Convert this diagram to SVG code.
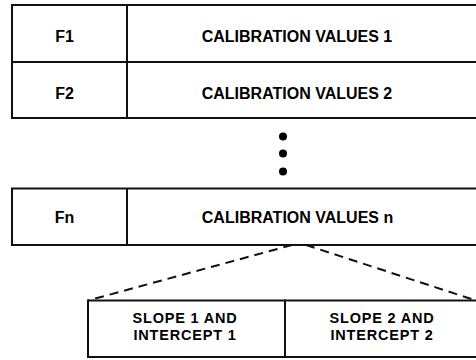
<svg xmlns="http://www.w3.org/2000/svg" width="476" height="360" viewBox="0 0 476 360">
<style>
.box{fill:#fff;stroke:#111;stroke-width:2}
.ln{stroke:#111;stroke-width:2;fill:none}
.dash{stroke:#111;stroke-width:2;fill:none;stroke-dasharray:9 6}
.t{font-family:"Liberation Sans",Arial,sans-serif;font-weight:bold;font-size:16px;fill:#000;text-anchor:middle}
.s{font-family:"Liberation Sans",Arial,sans-serif;font-weight:bold;font-size:14.5px;letter-spacing:0.8px;fill:#000;text-anchor:middle}
</style>
<rect width="476" height="360" fill="#fff"/>
<g id="row1">
<rect class="box" x="12" y="5" width="466" height="57"/>
<line class="ln" x1="127" y1="5" x2="127" y2="62"/>
<text class="t" x="64.5" y="41.5">F1</text>
<text class="t" x="297" y="41.5">CALIBRATION VALUES 1</text>
</g>
<g id="row2">
<rect class="box" x="12" y="62" width="466" height="56"/>
<line class="ln" x1="127" y1="62" x2="127" y2="118"/>
<text class="t" x="64.5" y="99">F2</text>
<text class="t" x="297" y="99">CALIBRATION VALUES 2</text>
</g>
<g id="ellipsis">
<circle cx="283" cy="136.5" r="4" fill="#000"/>
<circle cx="283" cy="153.5" r="4" fill="#000"/>
<circle cx="283" cy="171.5" r="4" fill="#000"/>
</g>
<g id="rown">
<rect class="box" x="12" y="188.5" width="466" height="56.5"/>
<line class="ln" x1="127" y1="188.5" x2="127" y2="245"/>
<text class="t" x="64.5" y="222.5">Fn</text>
<text class="t" x="297.5" y="222.5">CALIBRATION VALUES n</text>
</g>
<g id="connectors">
<line class="dash" x1="292" y1="245" x2="88" y2="300.5"/>
<line class="dash" x1="306" y1="245" x2="476" y2="300.5"/>
</g>
<g id="slope1">
<rect class="box" x="88" y="300.5" width="197" height="56.5"/>
<text class="s" x="185" y="323.3">SLOPE 1 AND</text>
<text class="s" x="185" y="339.7">INTERCEPT 1</text>
</g>
<g id="slope2">
<rect class="box" x="285" y="300.5" width="193" height="56.5"/>
<text class="s" x="382" y="323.3">SLOPE 2 AND</text>
<text class="s" x="382" y="339.7">INTERCEPT 2</text>
</g>
</svg>
